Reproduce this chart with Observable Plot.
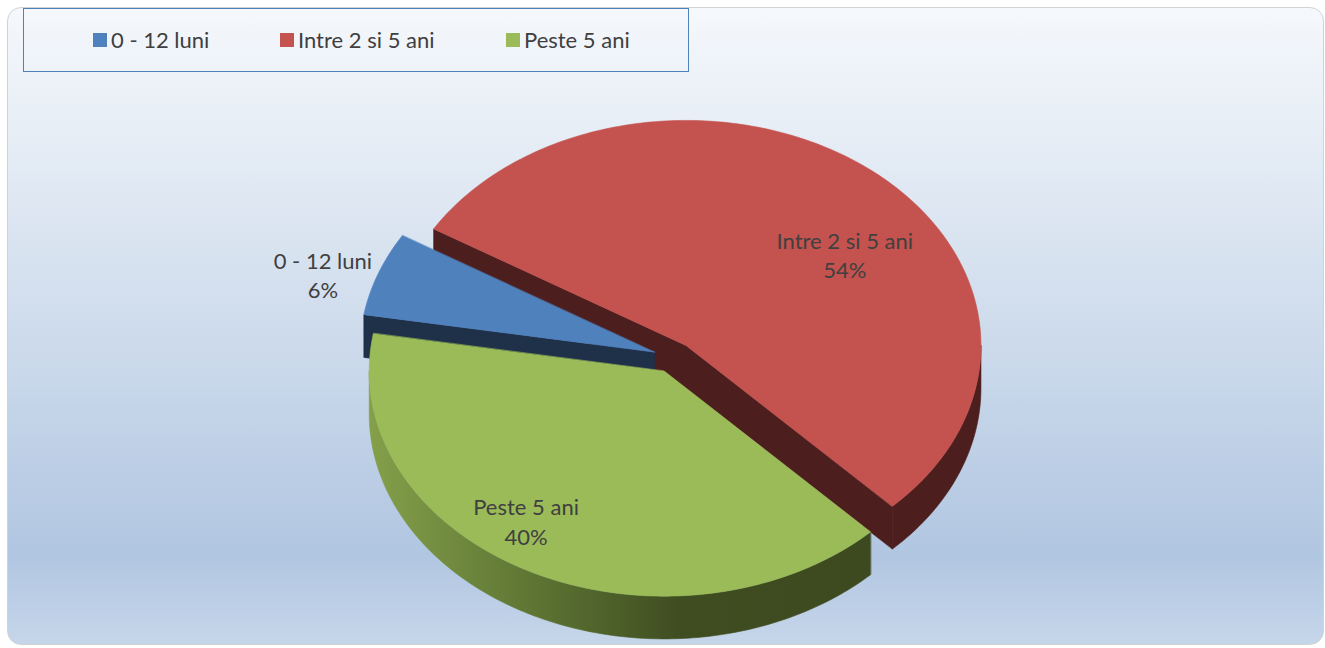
<!DOCTYPE html>
<html><head><meta charset="utf-8">
<script src="https://cdn.jsdelivr.net/npm/d3@7"></script>
<script src="https://cdn.jsdelivr.net/npm/@observablehq/plot@0.6"></script>
<style>
body{margin:0;background:#fff;width:1325px;height:648px;overflow:hidden;position:relative;font-family:Lato,"Open Sans",sans-serif}
#bg{position:absolute;left:7px;top:7px;width:1317px;height:638px;box-sizing:border-box;border:1.5px solid #d2d2d2;border-radius:14px;
background:linear-gradient(to bottom,#f5f8fc 0%,#eaf0f7 15%,#d3dfee 45%,#b1c6e1 86%,#c6d6ea 100%)}
#legend{position:absolute;left:23px;top:8px;width:666px;height:64px;box-sizing:border-box;border:1.5px solid #4f81bd}
.item{position:absolute;top:0;height:61px;display:flex;align-items:center;font-size:22px;color:#404040;white-space:nowrap}
.sw{width:14px;height:14px;margin-right:4px}
#chart{position:absolute;left:0;top:0}
</style></head><body>
<div id="bg"></div><div id="legend"></div><div id="chart"></div>
<script>
// ---- data ----
const categories = ["0 - 12 luni", "Intre 2 si 5 ani", "Peste 5 ani"];
const shares = [6, 54, 40];
const topColors = ["#4f81bd", "#c4524f", "#9bbb59"];
const sideColors = ["#1f3049", "#4d1e1e", "url(#greenSide)"];

// ---- layout ----
const W = 1325, H = 648, R = 295, CX = 673, CY = 357;
const K = 0.763, DEPTH = 0.145, EXPLODE = 0.068, START = 279.6;
const labelPlacement = [{r: 1.173, shift: -3.9, du: 0, dv: 0.011}, {r: 0.671, shift: 15.4, du: -0.003, dv: 0.008}, {r: 0.823, shift: 5.9, du: -0.014, dv: 0.017}];
const legendLeft = [69, 256, 482];
const rad = d => d * Math.PI / 180;

let acc = START;
const slices = categories.map((c, i) => {
  const a0 = acc, a1 = acc + shares[i] / 100 * 360; acc = a1;
  const mid = (a0 + a1) / 2;
  return {i, c, a0, a1, mid, ox: EXPLODE * Math.sin(rad(mid)), oy: EXPLODE * K * Math.cos(rad(mid))};
});
const pt = (s, a, r = 1, down = 0) => ({x: s.ox + r * Math.sin(rad(a)), y: s.oy + K * r * Math.cos(rad(a)) - down});
const arc = (s, lo, hi, down) => { const n = Math.max(2, Math.ceil(hi - lo)); return d3.range(n + 1).map(j => pt(s, lo + (hi - lo) * j / n, 1, down)); };

const back = [], tops = [];
for (const s of slices) {
  tops.push({pts: [pt(s, 0, 0), ...arc(s, s.a0, s.a1, 0)], fill: topColors[s.i]});
  for (const n of [0, 1, 2]) {
    const lo = Math.max(s.a0, 90 + 360 * n), hi = Math.min(s.a1, 270 + 360 * n);
    if (hi > lo) back.push({pts: [...arc(s, lo, hi, 0), ...arc(s, lo, hi, DEPTH).reverse()], fill: sideColors[s.i]});
  }
  const wall = a => ({pts: [pt(s, a, 0), pt(s, a, 1), pt(s, a, 1, DEPTH), pt(s, a, 0, DEPTH)], fill: sideColors[s.i] === "url(#greenSide)" ? "#3d4a20" : sideColors[s.i]});
  if (Math.sin(rad(s.a0)) < 0) back.push(wall(s.a0));
  if (Math.sin(rad(s.a1)) > 0) back.push(wall(s.a1));
}
back.forEach(f => f.key = d3.mean(f.pts, p => p.y));
back.sort((a, b) => b.key - a.key);

const labels = slices.map(s => {
  const lp = labelPlacement[s.i];
  const p = pt(s, s.mid + lp.shift, lp.r);
  return {x: p.x + lp.du, y: p.y + lp.dv, text: `${s.c}\n${shares[s.i]}%`};
});

const faceMark = f => Plot.line(f.pts, {x: "x", y: "y", curve: "linear-closed", fill: f.fill, stroke: f.fill, strokeWidth: 0.6});

const svg = Plot.plot({
  width: W, height: H, margin: 0,
  x: {domain: [-CX / R, (W - CX) / R], axis: null},
  y: {domain: [-(H - CY) / R, CY / R], axis: null},
  style: {background: "transparent"},
  marks: [
    ...back.map(faceMark),
    ...tops.map(faceMark),
    Plot.text(labels, {x: "x", y: "y", text: "text", fontSize: 22, lineHeight: 1.36, fill: "#404040", fontFamily: "Lato, 'Open Sans', sans-serif"})
  ]
});
d3.select(svg).insert("defs", ":first-child").html(
  `<linearGradient id="greenSide" x1="0" x2="1" y1="0" y2="0">
     <stop offset="0" stop-color="#84a04a"/><stop offset="0.35" stop-color="#5b7232"/>
     <stop offset="0.62" stop-color="#3f4d21"/><stop offset="1" stop-color="#3d4a1f"/>
   </linearGradient>`);
document.getElementById("chart").appendChild(svg);

const leg = d3.select("#legend");
categories.forEach((c, i) => {
  const it = leg.append("div").attr("class", "item").style("left", legendLeft[i] + "px");
  it.append("div").attr("class", "sw").style("background", topColors[i]);
  it.append("span").text(c);
});
</script>
</body></html>
